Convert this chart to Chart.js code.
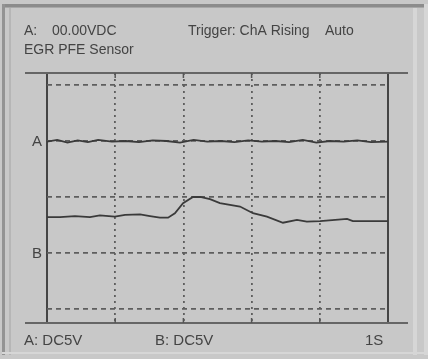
<!DOCTYPE html>
<html>
<head>
<meta charset="utf-8">
<script src="https://cdn.jsdelivr.net/npm/chart.js@4.4.1/dist/chart.umd.min.js"></script>
<style>
  html, body { margin: 0; padding: 0; background: #c8c8c8; overflow: hidden; }
  #wrap { position: relative; width: 428px; height: 359px; }
</style>
</head>
<body>
<div id="wrap"><canvas id="scope" width="428" height="359"></canvas></div>
<script>
// Sweep time in seconds, trace levels in screen divisions above the lowest grid line
const timeA = [0, 0.03, 0.06, 0.09, 0.12, 0.15, 0.19, 0.23, 0.27, 0.31, 0.35, 0.39, 0.43, 0.47, 0.51, 0.55, 0.59, 0.63, 0.67, 0.71, 0.75, 0.79, 0.83, 0.87, 0.91, 0.95, 1.0];
const chanA = [2.99, 3.02, 2.97, 3.01, 2.98, 3.02, 2.99, 3.0, 2.98, 3.01, 3.0, 2.97, 3.02, 2.99, 3.0, 2.98, 3.01, 2.99, 3.0, 2.98, 3.02, 2.97, 3.0, 2.99, 3.01, 2.98, 2.99];
const timeB = [0, 0.038, 0.082, 0.126, 0.155, 0.199, 0.229, 0.273, 0.302, 0.331, 0.355, 0.375, 0.399, 0.428, 0.449, 0.478, 0.507, 0.566, 0.604, 0.645, 0.692, 0.733, 0.762, 0.801, 0.845, 0.88, 0.897, 0.947, 1.0];
const chanB = [1.64, 1.64, 1.66, 1.64, 1.67, 1.65, 1.68, 1.69, 1.66, 1.63, 1.63, 1.71, 1.89, 2.0, 2.0, 1.96, 1.89, 1.83, 1.71, 1.65, 1.54, 1.59, 1.56, 1.57, 1.59, 1.61, 1.57, 1.57, 1.57];

// Graticule positions
const timeDivs = [0, 0.2, 0.4, 0.6, 0.8, 1.0];
const voltDivs = [0, 1, 2, 3, 4];

// Panel captions
const headerLine1 = ['A:', '00.00VDC', 'Trigger: ChA Rising', 'Auto'];
const headerLine2 = 'EGR PFE Sensor';
const footer = ['A: DC5V', 'B: DC5V', '1S'];
const channelMarks = [{ name: 'A', level: 3 }, { name: 'B', level: 1 }];

const INK = '#444';
const FAMILY = '"Liberation Sans", Arial, sans-serif';

// Instrument panel bezel painted behind the chart
const bezel = {
  id: 'bezel',
  beforeDraw(chart) {
    const { ctx, width, height } = chart;
    ctx.save();
    ctx.fillStyle = '#c8c8c8';
    ctx.fillRect(0, 0, width, height);
    ctx.fillStyle = '#8c8c8c';
    ctx.fillRect(2, 4, width - 4, 3);
    ctx.fillStyle = '#a8a8a8';
    ctx.fillRect(2, 7, width - 4, 1);
    ctx.fillStyle = '#939393';
    ctx.fillRect(2, 4, 3, height - 8);
    ctx.fillStyle = '#b6b6b6';
    ctx.fillRect(9, 8, 2, height - 12);
    ctx.fillStyle = '#d6d6d6';
    ctx.fillRect(413, 8, 4, height - 12);
    ctx.fillRect(424, 4, 4, height - 8);
    ctx.fillRect(2, 352, width - 4, 2);
    ctx.restore();
  }
};

// Frame rails, division ticks and captions
const panel = {
  id: 'panel',
  afterDraw(chart) {
    const { ctx, chartArea: a, scales } = chart;
    const x = scales.x, y = scales.y;
    ctx.save();
    ctx.strokeStyle = '#666';
    ctx.lineWidth = 2;
    ctx.beginPath();
    ctx.moveTo(a.left - 22, a.top); ctx.lineTo(a.right + 20, a.top);
    ctx.moveTo(a.left - 22, a.bottom); ctx.lineTo(a.right + 20, a.bottom);
    ctx.stroke();

    ctx.strokeStyle = '#555';
    ctx.lineWidth = 1.5;
    ctx.beginPath();
    timeDivs.slice(1, -1).forEach(t => {
      const px = x.getPixelForValue(t);
      ctx.moveTo(px, a.top); ctx.lineTo(px, a.top + 5);
      ctx.moveTo(px, a.bottom); ctx.lineTo(px, a.bottom - 5);
    });
    ctx.stroke();

    ctx.fillStyle = INK;
    ctx.textBaseline = 'alphabetic';
    ctx.textAlign = 'left';
    ctx.font = '14px ' + FAMILY;
    ctx.fillText(headerLine1[0], 24, 35);
    ctx.fillText(headerLine1[1], 52, 35);
    ctx.fillText(headerLine1[2], 188, 35);
    ctx.fillText(headerLine1[3], 325, 35);
    ctx.fillText(headerLine2, 24, 54);
    ctx.font = '15px ' + FAMILY;
    ctx.fillText(footer[0], 24, 345);
    ctx.fillText(footer[1], 155, 345);
    ctx.fillText(footer[2], 365, 345);

    ctx.font = '15px ' + FAMILY;
    ctx.textBaseline = 'middle';
    ctx.textAlign = 'center';
    channelMarks.forEach(m => {
      ctx.fillText(m.name, 37, y.getPixelForValue(m.level) + 1);
    });
    ctx.restore();
  }
};

const trace = { borderColor: '#3a3a3a', borderWidth: 1.8, pointRadius: 0, tension: 0, fill: false };

new Chart(document.getElementById('scope'), {
  type: 'line',
  data: {
    datasets: [
      { label: 'A', data: timeA.map((t, i) => ({ x: t, y: chanA[i] })), ...trace },
      { label: 'B', data: timeB.map((t, i) => ({ x: t, y: chanB[i] })), ...trace }
    ]
  },
  options: {
    responsive: false,
    devicePixelRatio: 1,
    animation: false,
    events: [],
    layout: { padding: { left: 47, right: 40, top: 73, bottom: 36 } },
    plugins: { legend: { display: false }, tooltip: { enabled: false }, title: { display: false } },
    scales: {
      x: {
        type: 'linear', min: 0, max: 1,
        afterBuildTicks(s) { s.ticks = timeDivs.map(v => ({ value: v })); },
        afterFit(s) { s.height = 0; },
        ticks: { display: false },
        grid: {
          drawTicks: false,
          color: ctx => (ctx.index === 0 || ctx.index === timeDivs.length - 1) ? '#454545' : '#5e5e5e',
          lineWidth: ctx => (ctx.index === 0 || ctx.index === timeDivs.length - 1) ? 2 : 1.8
        },
        border: {
          display: false,
          dash: ctx => (ctx.index === 0 || ctx.index === timeDivs.length - 1) ? [] : [2, 4]
        }
      },
      y: {
        type: 'linear', min: -0.25, max: 4.214,
        afterBuildTicks(s) { s.ticks = voltDivs.map(v => ({ value: v })); },
        afterFit(s) { s.width = 0; },
        ticks: { display: false },
        grid: { drawTicks: false, color: '#5e5e5e', lineWidth: 1.7 },
        border: { display: false, dash: [5, 4] }
      }
    }
  },
  plugins: [bezel, panel]
});
</script>
</body>
</html>
